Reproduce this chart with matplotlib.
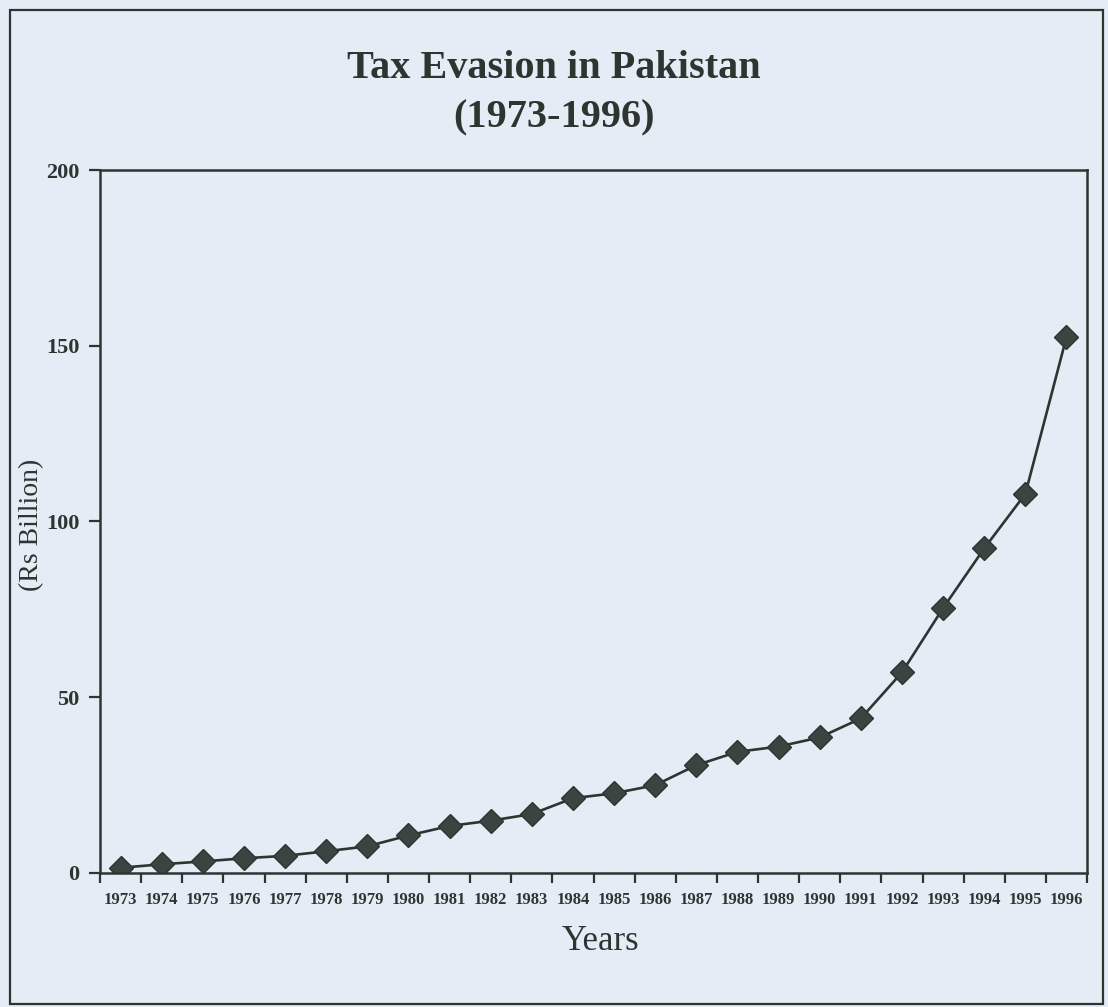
import matplotlib
matplotlib.use("Agg")
import matplotlib.pyplot as plt
from matplotlib.patches import Rectangle
import numpy as np

years = ["1973", "1974", "1975", "1976", "1977", "1978", "1979", "1980",
         "1981", "1982", "1983", "1984", "1985", "1986", "1987", "1988",
         "1989", "1990", "1991", "1992", "1993", "1994", "1995", "1996"]
evasion = [1.4, 2.4, 3.2, 4.1, 4.8, 6.1, 7.5, 10.6, 13.3, 14.8, 16.7, 21.2,
           22.6, 24.9, 30.6, 34.4, 35.9, 38.5, 43.9, 57.0, 75.3, 92.3, 107.8, 152.4]
y_ticks = [0, 50, 100, 150, 200]

bg = "#e4ecf6"
ink = "#2e3531"
serif = ["Liberation Serif", "DejaVu Serif"]

fig = plt.figure(figsize=(11.08, 10.07), dpi=100, facecolor=bg)

# outer frame
fig.patches.append(Rectangle((10 / 1108, 1 - 1004 / 1007), 1093 / 1108, 994 / 1007,
                             transform=fig.transFigure, fill=False,
                             edgecolor=ink, linewidth=1.6))

ax = fig.add_axes([100 / 1108, 1 - 872.7 / 1007, 987 / 1108, (872.7 - 170) / 1007])
ax.set_facecolor(bg)
x = np.arange(len(years))
ax.plot(x, evasion, color=ink, linewidth=1.9, marker="D", markersize=12,
        markerfacecolor="#3b4440", markeredgecolor=ink, markeredgewidth=1.0)

ax.set_xlim(-0.5, len(years) - 0.5)
ax.set_ylim(0, 200)
ax.set_yticks(y_ticks)
ax.set_yticklabels([str(v) for v in y_ticks], fontfamily=serif,
                   fontweight="bold", fontsize=16, color=ink)
ax.set_xticks(x)
ax.set_xticklabels(years, fontfamily=serif, fontweight="bold", fontsize=12, color=ink)
ax.set_xticks(np.arange(len(years) + 1) - 0.5, minor=True)
ax.tick_params(axis="x", which="major", length=0, pad=14)
ax.tick_params(axis="x", which="minor", length=7, width=1.6, color=ink, direction="out")
ax.tick_params(axis="y", length=8, width=1.6, color=ink, direction="out", pad=7)
for s in ax.spines.values():
    s.set_color(ink)
    s.set_linewidth(1.8)

fig.text(0.5, 1 - 68 / 1007, "Tax Evasion in Pakistan", ha="center", va="center",
         fontfamily=serif, fontweight="bold", fontsize=29, color=ink)
fig.text(0.5, 1 - 118 / 1007, "(1973-1996)", ha="center", va="center",
         fontfamily=serif, fontweight="bold", fontsize=29, color=ink)
fig.text(32 / 1108, 1 - 525 / 1007, "(Rs Billion)", ha="center", va="center",
         rotation=90, fontfamily=serif, fontsize=20, color=ink)
fig.text(600 / 1108, 1 - 941 / 1007, "Years", ha="center", va="center",
         fontfamily=serif, fontsize=25, color=ink)

fig.savefig("out.png", dpi=100, facecolor=bg)
